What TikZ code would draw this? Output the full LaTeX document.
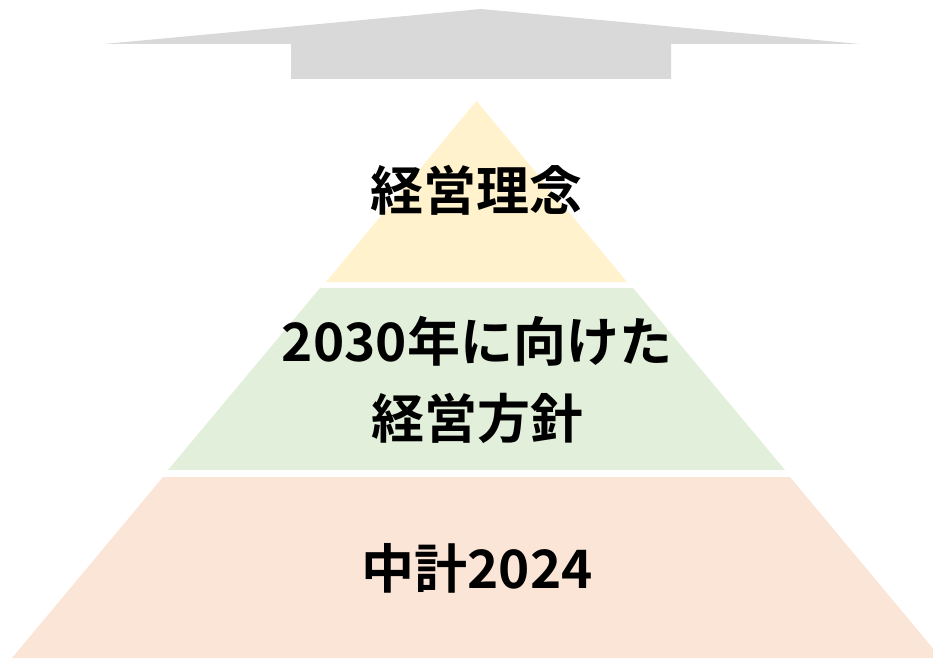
\documentclass[tikz,border=0pt]{standalone}
\usepackage{fontspec}
\newfontfamily\jp{Noto Sans CJK JP}[BoldFont={* Bold}]
\definecolor{arrowgray}{HTML}{D9D9D9}
\definecolor{tierY}{HTML}{FFF2CC}
\definecolor{tierG}{HTML}{E2EFDA}
\definecolor{tierP}{HTML}{FBE5D6}
\begin{document}
\begin{tikzpicture}[x=1pt,y=-1pt,
  lbl/.style={font=\jp\bfseries\fontsize{53}{77}\selectfont, align=center, text=black, inner sep=0pt}]
\useasboundingbox (0,0) rectangle (933,658);
\begin{scope}
\clip (0,0) rectangle (933,658);
% top arrow
\fill[arrowgray] (104,44) -- (481,9) -- (860,44) -- (671,44) -- (671,79) -- (291,79) -- (291,44) -- cycle;
% tiers
\fill[tierY] (476.5,101) -- (627,282) -- (326,282) -- cycle;
\fill[tierG] (320,288) -- (633,288) -- (785,470) -- (168,470) -- cycle;
\fill[tierP] (163,477) -- (790,477) -- (941,658) -- (12,658) -- cycle;
\end{scope}
\node[lbl] (t1) at (476.5,190) {経営理念};
\node[lbl] (t2) at (477,380) {2030年に向けた\\経営方針};
\node[lbl] (t3) at (477,568) {中計2024};
\end{tikzpicture}
\end{document}
